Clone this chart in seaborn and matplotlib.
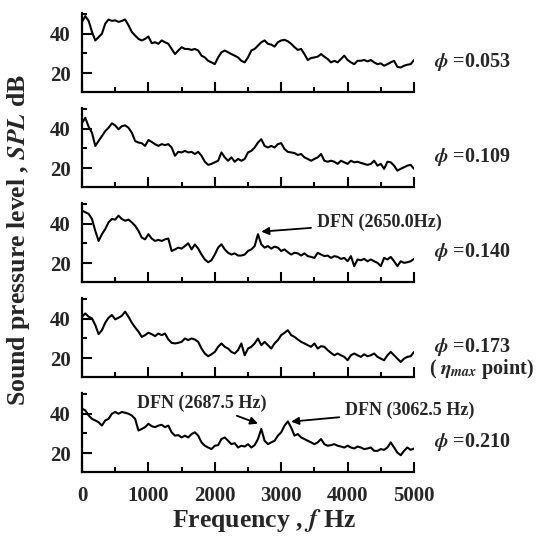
import numpy as np
import matplotlib
matplotlib.use("Agg")
import matplotlib.pyplot as plt
import seaborn as sns

freq = np.arange(0, 5001, 50)

phi_labels = ["0.053", "0.109", "0.140", "0.173", "0.210"]

spl_053 = [46.0, 48.9, 46.5, 41.0, 36.6, 38.3, 40.0, 45.1, 47.2, 46.5,
           46.8, 46.0, 46.5, 47.2, 44.3, 40.9, 39.1, 37.4, 36.6, 37.4,
           38.6, 35.2, 35.7, 34.9, 36.6, 35.7, 34.9, 32.3, 29.7, 31.5,
           33.2, 32.3, 32.3, 31.8, 32.3, 31.5, 28.9, 28.0, 26.3, 25.5,
           24.6, 28.0, 30.6, 31.5, 30.6, 29.7, 28.9, 28.0, 26.3, 25.5,
           28.0, 31.5, 32.3, 34.0, 35.7, 36.6, 34.9, 34.5, 33.5, 35.7,
           36.6, 36.9, 36.2, 34.9, 33.2, 31.8, 32.3, 29.7, 26.7, 27.7,
           28.0, 28.4, 29.7, 28.4, 27.2, 25.5, 26.3, 25.5, 27.2, 28.9,
           26.7, 25.5, 24.6, 26.3, 26.3, 26.7, 26.0, 26.7, 25.5, 24.6,
           25.0, 23.8, 24.6, 25.5, 26.3, 23.2, 22.9, 23.8, 24.3, 24.6,
           26.7]

spl_109 = [43.0, 45.5, 41.0, 38.0, 31.3, 33.8, 36.3, 38.8, 40.5, 42.7,
           41.7, 39.7, 41.3, 41.7, 40.5, 38.0, 33.8, 33.0, 32.7, 31.3,
           34.3, 33.3, 32.2, 31.3, 32.2, 31.7, 32.2, 30.5, 26.3, 28.3,
           28.0, 28.8, 28.0, 28.3, 27.2, 28.3, 26.3, 23.3, 21.7, 22.2,
           23.0, 23.8, 28.0, 25.5, 23.8, 25.5, 23.3, 24.7, 23.8, 24.7,
           28.0, 28.8, 30.5, 33.0, 34.7, 31.3, 30.5, 31.3, 30.5, 32.2,
           32.7, 29.7, 28.3, 28.0, 27.7, 26.7, 27.2, 25.5, 24.7, 23.8,
           24.7, 25.5, 27.2, 23.8, 23.3, 23.8, 23.3, 22.2, 23.8, 23.0,
           22.2, 23.8, 23.0, 23.3, 22.7, 22.2, 21.7, 22.2, 23.8, 21.3,
           22.2, 19.7, 23.3, 23.0, 21.3, 18.8, 19.7, 20.5, 21.3, 21.7,
           19.7]

spl_140 = [46.7, 45.8, 45.0, 42.4, 36.4, 31.3, 34.7, 37.3, 40.7, 42.4,
           42.1, 44.1, 42.4, 41.5, 42.1, 40.7, 39.0, 36.4, 33.0, 32.1,
           34.7, 32.5, 31.3, 31.8, 31.3, 32.1, 32.5, 26.2, 27.0, 27.9,
           27.4, 28.7, 30.1, 27.0, 29.5, 27.4, 24.4, 21.9, 20.5, 21.5,
           24.4, 27.9, 29.6, 27.0, 25.3, 24.4, 25.0, 23.9, 23.9, 24.4,
           26.2, 27.0, 28.7, 34.7, 29.6, 27.9, 28.7, 27.4, 28.4, 27.9,
           26.2, 27.0, 25.6, 24.4, 25.3, 25.0, 23.9, 25.0, 23.6, 23.2,
           22.7, 25.3, 24.4, 23.6, 23.9, 22.7, 23.6, 23.2, 22.2, 22.7,
           21.0, 23.6, 18.5, 21.9, 21.5, 22.2, 21.0, 21.9, 21.0, 20.2,
           18.5, 22.7, 21.9, 23.2, 21.0, 18.5, 21.0, 20.2, 20.5, 21.0,
           22.2]

spl_173 = [41.0, 42.7, 41.0, 40.2, 36.8, 32.2, 34.2, 38.0, 40.5, 41.9,
           39.7, 40.5, 41.5, 43.6, 41.0, 38.0, 35.6, 33.5, 30.8, 31.7,
           32.9, 32.2, 31.2, 32.5, 31.7, 32.5, 29.5, 27.8, 27.5, 27.8,
           28.3, 30.0, 29.2, 30.0, 29.5, 28.3, 24.9, 22.4, 21.0, 22.0,
           23.2, 25.8, 27.5, 25.8, 24.9, 23.2, 22.4, 24.1, 27.5, 21.5,
           24.9, 25.8, 27.5, 30.0, 26.6, 28.3, 26.6, 24.9, 27.5, 29.2,
           31.7, 32.9, 34.2, 31.7, 30.8, 29.5, 28.3, 27.5, 26.6, 25.8,
           27.5, 24.9, 26.1, 25.8, 24.1, 22.7, 21.5, 22.4, 21.5, 20.7,
           19.0, 21.5, 22.4, 21.5, 20.7, 22.0, 21.0, 21.5, 22.4, 20.7,
           19.8, 19.0, 21.5, 23.2, 21.5, 19.8, 18.1, 19.8, 20.7, 21.0,
           23.2]

spl_210 = [42.6, 41.7, 39.1, 37.4, 36.6, 35.7, 34.0, 36.6, 37.4, 40.0,
           40.9, 40.0, 40.9, 40.5, 40.0, 39.1, 37.4, 31.5, 32.3, 33.2,
           34.9, 33.7, 33.2, 34.0, 34.4, 33.2, 34.0, 30.6, 28.9, 29.2,
           28.0, 28.9, 28.0, 29.7, 30.6, 28.9, 25.5, 23.8, 22.9, 22.1,
           23.8, 24.1, 27.2, 28.0, 26.3, 24.6, 25.1, 22.9, 23.8, 23.4,
           24.6, 22.9, 24.1, 27.2, 32.3, 26.3, 24.6, 25.5, 26.3, 28.9,
           30.6, 34.0, 36.1, 33.0, 28.9, 29.7, 28.0, 27.2, 26.3, 25.5,
           24.6, 25.5, 27.2, 24.6, 23.8, 24.1, 24.6, 23.8, 23.4, 22.9,
           23.8, 22.9, 22.4, 23.4, 22.9, 22.1, 22.4, 22.9, 21.2, 21.2,
           22.1, 21.7, 22.9, 25.5, 22.9, 20.3, 19.0, 21.2, 22.9, 21.7,
           22.4]

spectra = [spl_053, spl_109, spl_140, spl_173, spl_210]

sns.set_theme(style="ticks")
plt.rcParams["font.family"] = ["Liberation Serif", "DejaVu Serif"]
plt.rcParams["font.weight"] = "bold"
plt.rcParams["mathtext.fontset"] = "stix"

fig = plt.figure(figsize=(5.41, 5.38), dpi=100)

W, H = 541, 538
left, width = 82 / W, 332 / W
axes = []
for k, spl in enumerate(spectra):
    top = 13 + 95 * k
    ax = fig.add_axes([left, 1 - (top + 79) / H, width, 79 / H])
    sns.lineplot(x=freq, y=spl, ax=ax, color="black", linewidth=1.5)
    ax.set_xlim(0, 5000)
    ax.set_ylim(10.5, 50.5)
    ax.set_yticks([20, 40])
    ax.set_yticks([30, 50], minor=True)
    ax.set_xticks(np.arange(0, 5001, 1000))
    ax.set_xticks(np.arange(500, 5000, 1000), minor=True)
    for s in ["top", "right"]:
        ax.spines[s].set_visible(False)
    for s in ["left", "bottom"]:
        ax.spines[s].set_linewidth(1.6)
        ax.spines[s].set_color("black")
    ax.tick_params(which="major", direction="in", length=7, width=1.5,
                   labelsize=15, pad=8, color="black")
    ax.tick_params(which="minor", direction="in", length=3.5, width=1.5,
                   color="black")
    ax.tick_params(axis="x", pad=10)
    if k < 4:
        ax.set_xticklabels([])
    ax.set_xlabel("")
    ax.set_ylabel("")
    ax.text(1.06, 0.38, r"$\phi$ =" + phi_labels[k], transform=ax.transAxes,
            ha="left", va="center", fontsize=14.5)
    axes.append(ax)

axes[3].text(1.045, 0.1, r"( $\eta_{max}$ point)", transform=axes[3].transAxes,
             ha="left", va="center", fontsize=14.5)

arrow = dict(arrowstyle="-|>", color="black", lw=1.3, mutation_scale=11,
             shrinkA=2, shrinkB=0)
axes[2].annotate("DFN (2650.0Hz)", xy=(2700, 36.0), xytext=(3540, 40.5),
                 ha="left", va="center", fontsize=13, arrowprops=arrow,
                 annotation_clip=False)
axes[4].annotate("DFN (2687.5 Hz)", xy=(2650, 35.0), xytext=(1810, 45.5),
                 ha="center", va="center", fontsize=13, arrowprops=arrow,
                 annotation_clip=False)
axes[4].annotate("DFN (3062.5 Hz)", xy=(3150, 36.0), xytext=(4940, 41.5),
                 ha="center", va="center", fontsize=13, arrowprops=arrow,
                 annotation_clip=False)

fig.text(0.035, 1 - 240 / H, r"Sound pressure level , $\mathbfit{SPL}$ dB",
         rotation=90, ha="center", va="center", fontsize=18.5)
fig.text(264 / W, 1 - 521 / H, r"Frequency , $\mathbfit{f}$ Hz",
         ha="center", va="center", fontsize=18.5)

fig.savefig("out.png", dpi=100)
